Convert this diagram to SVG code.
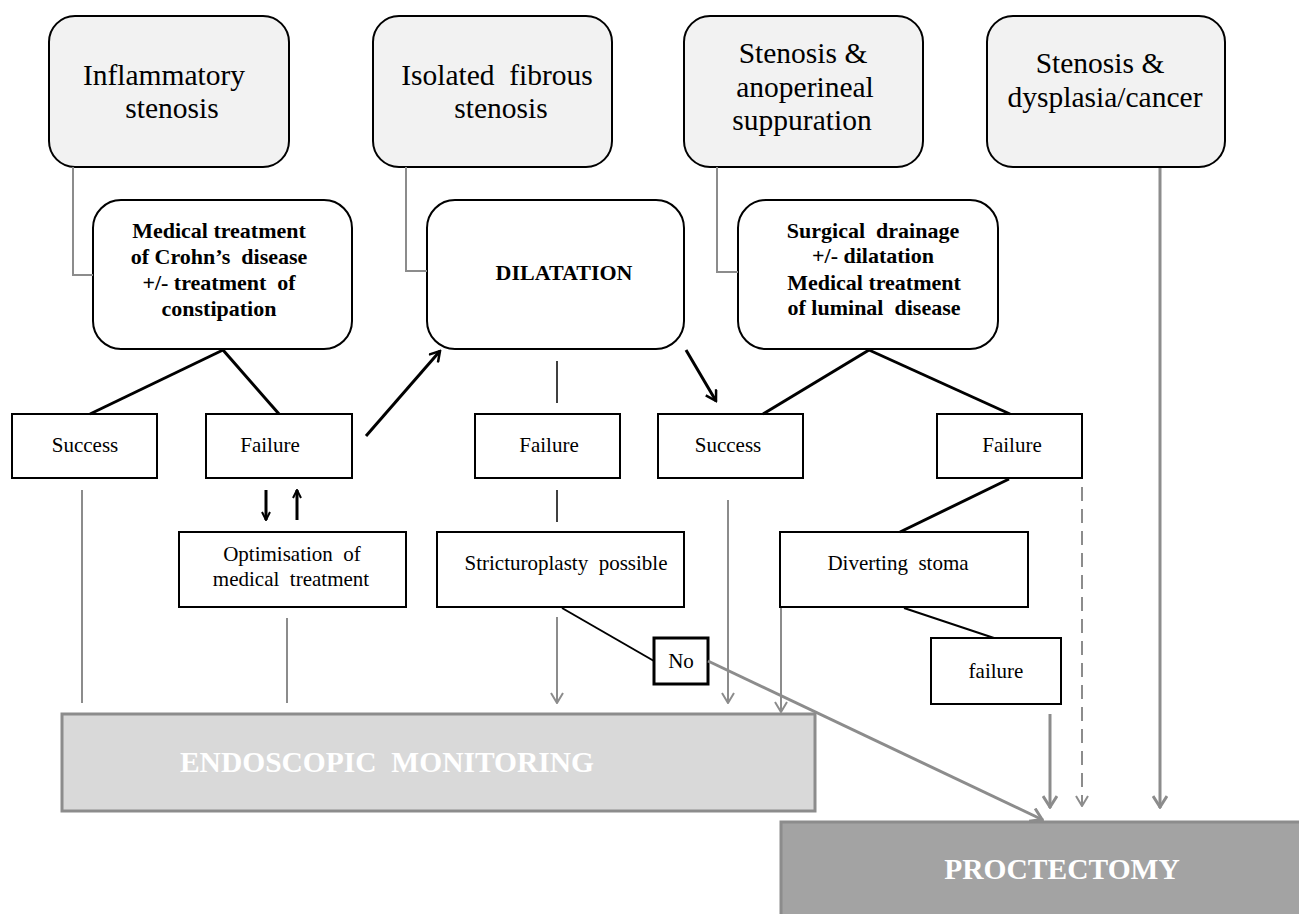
<svg xmlns="http://www.w3.org/2000/svg" width="1299" height="914" viewBox="0 0 1299 914">
<style>
text{font-family:"Liberation Serif","Times New Roman",serif;fill:#000;text-anchor:middle;white-space:pre}
.top rect{fill:#f2f2f2;stroke:#000;stroke-width:2}
.top text{font-family:"Liberation Serif","Times New Roman",serif;font-size:29.5px}
.mid rect{fill:#fff;stroke:#000;stroke-width:2}
.mid text{font-size:22px;font-weight:bold}
.box rect{fill:#fff;stroke:#000;stroke-width:2}
.box text{font-size:21px}
.blk{stroke:#000;stroke-width:3;fill:none}
.thin{stroke:#000;stroke-width:1.5;fill:none}
.g{stroke:#8c8c8c;stroke-width:2;fill:none}
.gt{stroke:#8c8c8c;stroke-width:3;fill:none}
.big{font-size:29.5px;font-weight:bold;fill:#fff}
</style>
<defs>
<marker id="ab" viewBox="0 0 14 14" refX="12" refY="7" markerWidth="14" markerHeight="14" orient="auto" markerUnits="userSpaceOnUse"><path d="M2,1 L12,7 L2,13" fill="none" stroke="#000" stroke-width="2.5"/></marker>
<marker id="as" viewBox="0 0 10 10" refX="9" refY="5" markerWidth="10" markerHeight="10" orient="auto" markerUnits="userSpaceOnUse"><path d="M1,1 L9,5 L1,9" fill="none" stroke="#000" stroke-width="2"/></marker>
<marker id="ag" viewBox="0 0 12 14" refX="11" refY="7" markerWidth="12" markerHeight="14" orient="auto" markerUnits="userSpaceOnUse"><path d="M1,1 L11,7 L1,13" fill="none" stroke="#8c8c8c" stroke-width="2"/></marker>
<marker id="agt" viewBox="0 0 14 16" refX="13" refY="8" markerWidth="14" markerHeight="16" orient="auto" markerUnits="userSpaceOnUse"><path d="M1,1 L12,8 L1,15" fill="none" stroke="#8c8c8c" stroke-width="3"/></marker>
</defs>

<g id="n-inflammatory" class="top"><rect x="49" y="16" width="240" height="151" rx="26"/><text x="164" y="85">Inflammatory</text><text x="172" y="118">stenosis</text></g>
<g id="n-fibrous" class="top"><rect x="373" y="16" width="239" height="151" rx="26"/><text x="497" y="85">Isolated  fibrous</text><text x="501" y="118">stenosis</text></g>
<g id="n-anoperineal" class="top"><rect x="684" y="16" width="239" height="151" rx="26"/><text x="803" y="63">Stenosis &amp;</text><text x="805" y="97">anoperineal</text><text x="802" y="130">suppuration</text></g>
<g id="n-dysplasia" class="top"><rect x="987" y="16" width="238" height="151" rx="26"/><text x="1100" y="73">Stenosis &amp;</text><text x="1105" y="107">dysplasia/cancer</text></g>

<g id="n-medical" class="mid"><rect x="93" y="200" width="259" height="149" rx="28"/><text x="219" y="238">Medical treatment</text><text x="219" y="264">of Crohn’s  disease</text><text x="219" y="290">+/- treatment  of</text><text x="219" y="316">constipation</text></g>
<g id="n-dilatation" class="mid"><rect x="427" y="200" width="257" height="149" rx="28"/><text x="564" y="280">DILATATION</text></g>
<g id="n-surgical" class="mid"><rect x="738" y="200" width="260" height="149" rx="28"/><text x="873" y="238">Surgical  drainage</text><text x="873" y="263">+/- dilatation</text><text x="874" y="290">Medical treatment</text><text x="874" y="315">of luminal  disease</text></g>

<g id="n-success1" class="box"><rect x="12" y="414" width="145" height="64"/><text x="85" y="452">Success</text></g>
<g id="n-failure1" class="box"><rect x="206" y="414" width="146" height="64"/><text x="270" y="452">Failure</text></g>
<g id="n-failure2" class="box"><rect x="475" y="414" width="145" height="64"/><text x="549" y="452">Failure</text></g>
<g id="n-success2" class="box"><rect x="658" y="414" width="145" height="64"/><text x="728" y="452">Success</text></g>
<g id="n-failure3" class="box"><rect x="937" y="414" width="145" height="64"/><text x="1012" y="452">Failure</text></g>

<g id="n-optimisation" class="box"><rect x="179" y="532" width="227" height="75"/><text x="292" y="561">Optimisation  of</text><text x="291" y="586">medical  treatment</text></g>
<g id="n-stricturoplasty" class="box"><rect x="437" y="532" width="247" height="75"/><text x="566" y="570">Stricturoplasty  possible</text></g>
<g id="n-diverting" class="box"><rect x="780" y="532" width="248" height="75"/><text x="898" y="570">Diverting  stoma</text></g>
<g id="n-no" class="box"><rect x="654" y="638" width="54" height="46" style="stroke-width:3"/><text x="681" y="668">No</text></g>
<g id="n-failure4" class="box"><rect x="931" y="638" width="130" height="66"/><text x="996" y="678">failure</text></g>

<g id="n-endoscopic"><rect x="62" y="714" width="753" height="97" fill="#d9d9d9" stroke="#8c8c8c" stroke-width="3"/><text class="big" x="387" y="772">ENDOSCOPIC  MONITORING</text></g>
<g id="n-proctectomy"><rect x="781" y="822" width="530" height="100" fill="#a3a3a3" stroke="#8c8c8c" stroke-width="3"/><text class="big" x="1062" y="879">PROCTECTOMY</text></g>

<g id="connectors">
<path class="g" d="M73,167 V275 H93"/>
<path class="g" d="M406,167 V271 H427"/>
<path class="g" d="M717,167 V272 H738"/>
<path class="gt" d="M1160,168 V808" marker-end="url(#agt)"/>
<path class="blk" d="M223,350 L90,414"/>
<path class="blk" d="M223,350 L279,414"/>
<path class="blk" d="M869,350 L763,414"/>
<path class="blk" d="M869,350 L1010,414"/>
<path class="blk" d="M366,436 L440,351" marker-end="url(#ab)"/>
<path class="blk" d="M686,350 L716,401" marker-end="url(#ab)"/>
<path class="blk" d="M266,490 V520" marker-end="url(#as)"/>
<path class="blk" d="M297,520 V490" marker-end="url(#as)"/>
<path class="thin" d="M557,361 V403"/>
<path class="thin" d="M557,490 V522"/>
<path class="blk" d="M1009,479 L900,532"/>
<path class="thin" style="stroke-width:2" d="M562,608 L654,661"/>
<path class="thin" style="stroke-width:2" d="M904,608 L994,638"/>
<path class="g" d="M82,490 V703"/>
<path class="g" d="M287,618 V703"/>
<path class="g" d="M557,617 V703" marker-end="url(#ag)"/>
<path class="g" d="M728,500 V703" marker-end="url(#ag)"/>
<path class="g" d="M781,608 V712" marker-end="url(#ag)"/>
<path class="g" d="M1082,487 V806" stroke-dasharray="14,8" marker-end="url(#ag)"/>
<path class="gt" d="M1050,714 V808" marker-end="url(#agt)"/>
<path class="gt" d="M708,661 L1043,820" marker-end="url(#agt)"/>
</g>
</svg>
